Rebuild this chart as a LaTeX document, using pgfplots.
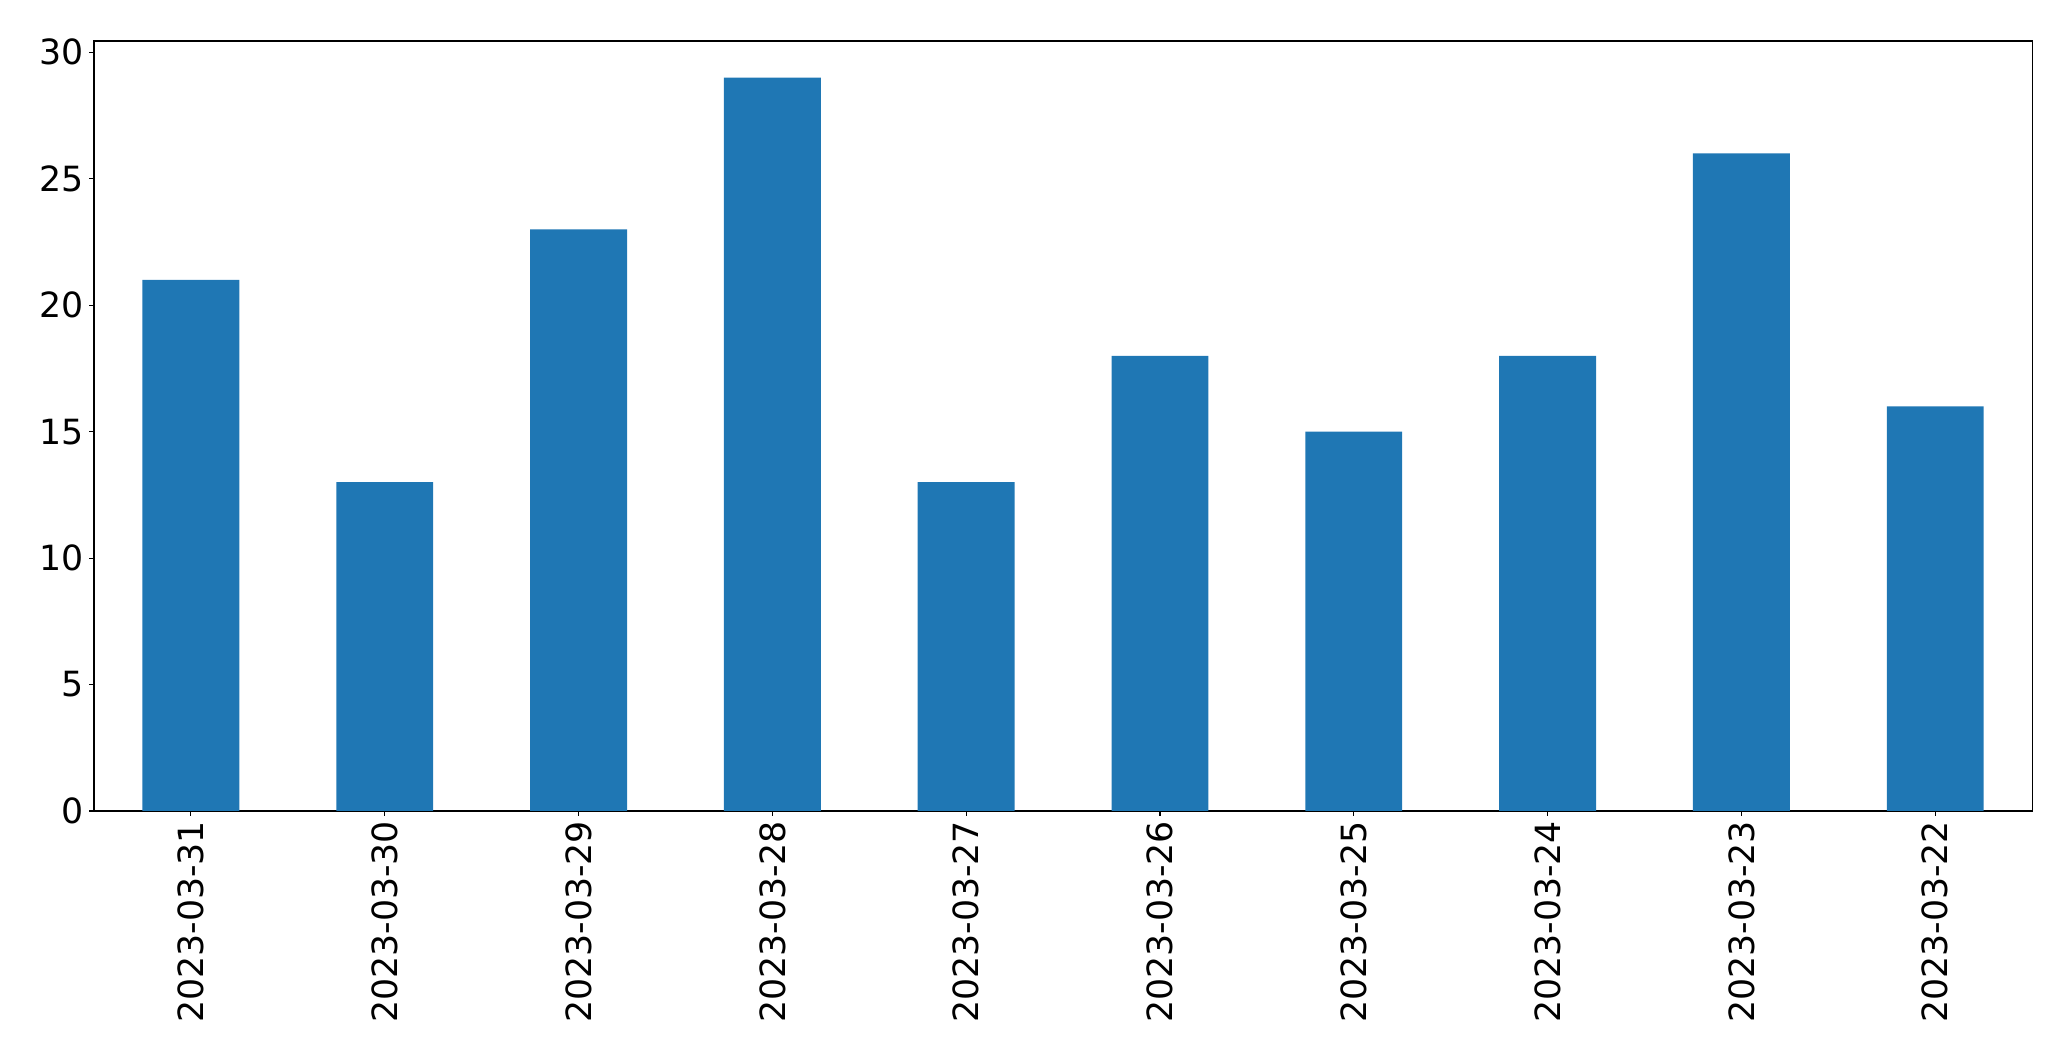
\documentclass[border=0pt]{standalone}
\usepackage{fontspec}
\setmainfont{DejaVu Sans}
\usepackage{pgfplots}
\pgfplotsset{compat=1.18}
\definecolor{barblue}{HTML}{1F77B4}

\begin{document}
\begin{tikzpicture}
	\begin{axis}[
	width=1395.4pt,
	height=554.4pt,
	scale only axis,
	clip=false,
	xmin=-0.5, xmax=9.5,
	ymin=0, ymax=30.45,
	xtick=data,
	xticklabels={2023-03-31,2023-03-30,2023-03-29,2023-03-28,2023-03-27,2023-03-26,2023-03-25,2023-03-24,2023-03-23,2023-03-22},
	ytick={0,5,10,15,20,25,30},
	tick pos=left,
	tick align=outside,
	major tick length=3.5pt,
	every tick/.style={black, line width=0.8pt},
	axis line style={line width=0.8pt},
	/pgf/number format/assume math mode=true,
	tick label style={font=\fontsize{25}{29}\selectfont},
	xticklabel style={rotate=90, anchor=east, inner sep=3.5pt},
	yticklabel style={inner sep=3.5pt},
	]
	\addplot [ybar, bar width=0.5, fill=barblue, draw=none] coordinates {
		(0,21) (1,13) (2,23) (3,29) (4,13) (5,18) (6,15) (7,18) (8,26) (9,16)
	};
	% room round the axis, as in the reference
	\path ([xshift=-67.7pt,yshift=-181.4pt]rel axis cs:0,0) rectangle ([xshift=28pt,yshift=29.5pt]rel axis cs:1,1);
	\end{axis}
\end{tikzpicture}
\end{document}
